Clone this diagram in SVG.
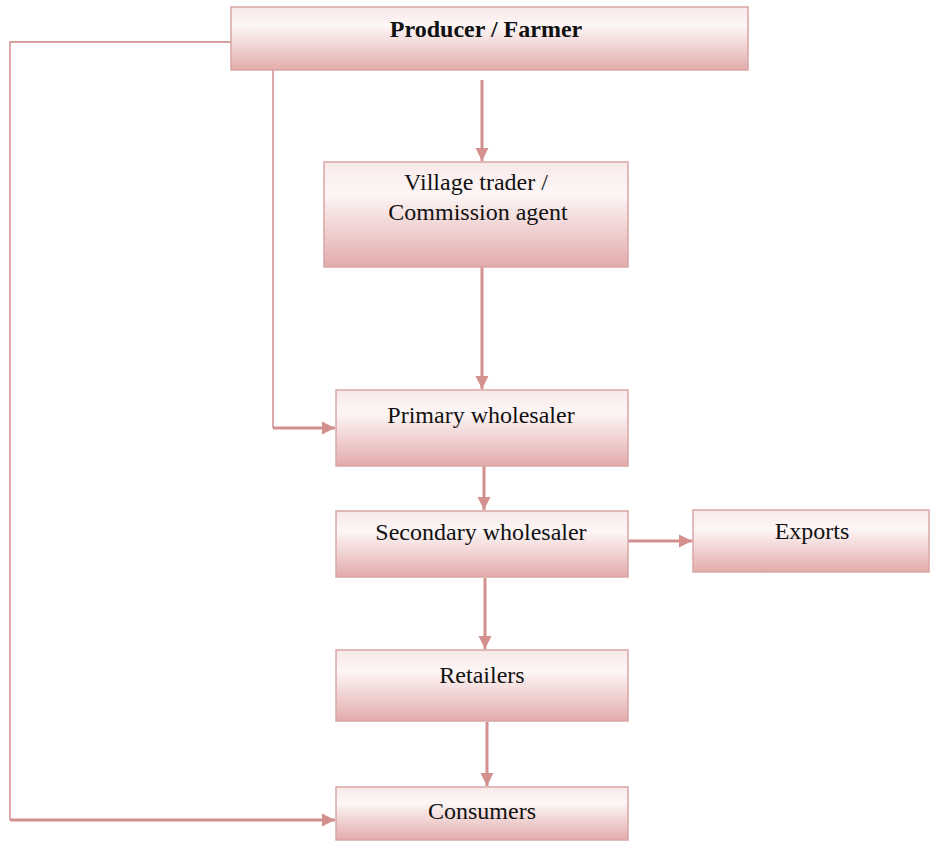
<svg xmlns="http://www.w3.org/2000/svg" width="930" height="841" viewBox="0 0 930 841">
<defs>
<linearGradient id="g" x1="0" y1="0" x2="0" y2="1">
<stop offset="0" stop-color="#f9e9e9"/>
<stop offset="0.3" stop-color="#fdf6f6"/>
<stop offset="1" stop-color="#e3abab"/>
</linearGradient>
<marker id="ah" viewBox="0 0 10 10" refX="10" refY="5" markerWidth="4.5" markerHeight="4.5" markerUnits="strokeWidth" orient="auto">
<path d="M0,0 L10,5 L0,10 z" fill="#d48f8f"/>
</marker>
</defs>
<style>
.box{fill:url(#g);stroke:#d9a5a5;stroke-width:1.5}
.t{font-family:"Liberation Serif","Times New Roman",serif;font-size:24px;fill:#111;text-anchor:middle}
.b{font-weight:bold}
.c{fill:none;stroke:#d48f8f;stroke-width:3}
.th{fill:none;stroke:#d9a0a0;stroke-width:1.8}
</style>
<rect width="930" height="841" fill="#fff"/>
<g id="connectors">
<polyline class="th" points="231,42 10,42 10,820"/>
<line class="c" x1="10" y1="820" x2="335" y2="820" marker-end="url(#ah)"/>
<polyline class="th" points="273,70 273,428"/>
<line class="c" x1="273" y1="428" x2="335" y2="428" marker-end="url(#ah)"/>
<line class="c" x1="482" y1="80" x2="482" y2="161" marker-end="url(#ah)"/>
<line class="c" x1="482" y1="267" x2="482" y2="389" marker-end="url(#ah)"/>
<line class="c" x1="484" y1="448" x2="484" y2="510" marker-end="url(#ah)"/>
<line class="c" x1="628" y1="541" x2="692" y2="541" marker-end="url(#ah)"/>
<line class="c" x1="485" y1="578" x2="485" y2="649" marker-end="url(#ah)"/>
<line class="c" x1="487" y1="722" x2="487" y2="786" marker-end="url(#ah)"/>
</g>
<g id="producer">
<rect class="box" x="231" y="7" width="517" height="63"/>
<text class="t b" x="486" y="37">Producer / Farmer</text>
</g>
<g id="village">
<rect class="box" x="324" y="162" width="304" height="105"/>
<text class="t" x="476" y="190">Village trader /</text>
<text class="t" x="478" y="220">Commission agent</text>
</g>
<g id="primary">
<rect class="box" x="336" y="390" width="292" height="76"/>
<text class="t" x="481" y="423">Primary wholesaler</text>
</g>
<g id="secondary">
<rect class="box" x="336" y="511" width="292" height="66"/>
<text class="t" x="481" y="540">Secondary wholesaler</text>
</g>
<g id="exports">
<rect class="box" x="693" y="510" width="236" height="62"/>
<text class="t" x="812" y="539">Exports</text>
</g>
<g id="retailers">
<rect class="box" x="336" y="650" width="292" height="71"/>
<text class="t" x="482" y="683">Retailers</text>
</g>
<g id="consumers">
<rect class="box" x="336" y="787" width="292" height="53"/>
<text class="t" x="482" y="819">Consumers</text>
</g>
</svg>
